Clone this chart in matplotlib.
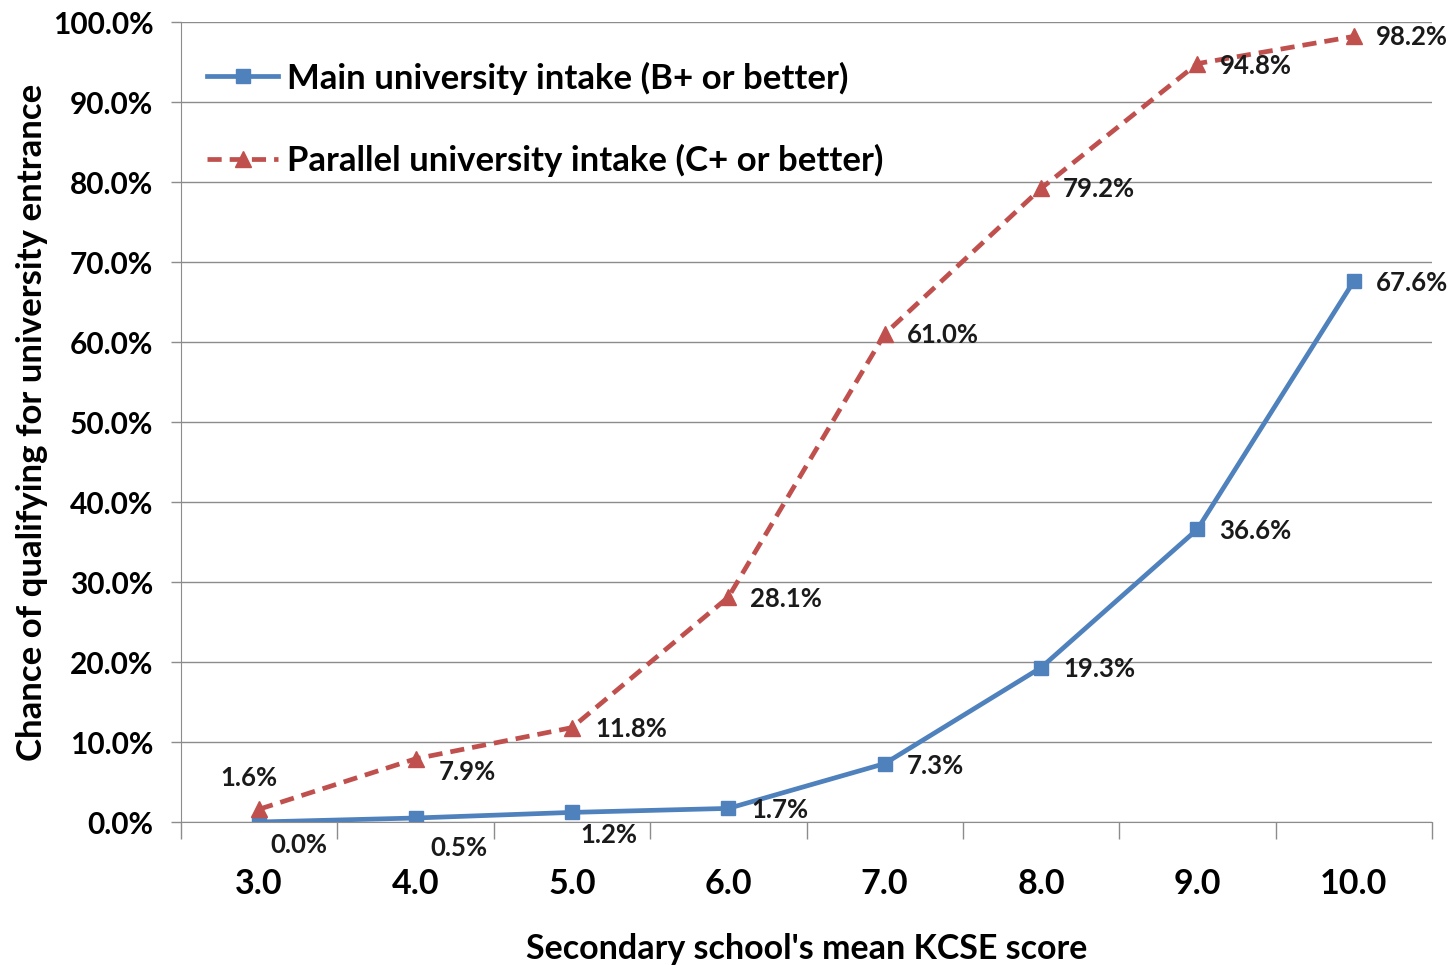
import matplotlib
matplotlib.use("Agg")
import matplotlib.pyplot as plt
from matplotlib.ticker import FuncFormatter, MultipleLocator

plt.rcParams["font.family"] = ["Lato", "DejaVu Sans"]

scores = ["3.0", "4.0", "5.0", "6.0", "7.0", "8.0", "9.0", "10.0"]
main_intake = [0.0, 0.5, 1.2, 1.7, 7.3, 19.3, 36.6, 67.6]
parallel_intake = [1.6, 7.9, 11.8, 28.1, 61.0, 79.2, 94.8, 98.2]

# label offsets in pixels (dx, dy), relative to the data point
main_offsets = [(11, -23), (15, -30), (8, -23), (23, -2), (22, -2), (22, -1), (22, -2), (22, -2)]
par_offsets = [(-39, 31), (23, -13), (23, -1), (22, -2), (22, -1), (22, -1), (22, -2), (22, -1)]

BLUE = "#4F81BD"
RED = "#C0504D"

fig = plt.figure(figsize=(14.51, 9.65), dpi=100)
ax = fig.add_axes([181 / 1451, 1 - 822 / 965, 1251 / 1451, 800 / 965])

x = list(range(len(scores)))
ax.plot(x, main_intake, color=BLUE, lw=3.4, marker="s", ms=10,
        label="Main university intake (B+ or better)")
ax.plot(x, parallel_intake, color=RED, lw=3.4, ls=(0, (3.0, 1.7)), marker="^", ms=11,
        label="Parallel university intake (C+ or better)")

for xi, v, (dx, dy) in zip(x, main_intake, main_offsets):
    ax.annotate(f"{v:.1f}%", (xi, v), xytext=(dx, dy), textcoords="offset pixels",
                ha="left", va="center", fontsize=18.5, fontweight="bold", color="#1a1a1a")
for xi, v, (dx, dy) in zip(x, parallel_intake, par_offsets):
    ax.annotate(f"{v:.1f}%", (xi, v), xytext=(dx, dy), textcoords="offset pixels",
                ha="left", va="center", fontsize=18.5, fontweight="bold", color="#1a1a1a")

ax.set_xlim(-0.5, len(scores) - 0.5)
ax.set_ylim(0, 100)
ax.yaxis.set_major_locator(MultipleLocator(10))
ax.yaxis.set_major_formatter(FuncFormatter(lambda v, p: f"{v:.1f}%"))
ax.grid(axis="y", color="#8c8c8c", lw=1)
ax.set_axisbelow(True)

ax.set_xticks(x)
ax.set_xticklabels(scores)
ax.set_xticks([i - 0.5 for i in range(len(scores) + 1)], minor=True)
ax.tick_params(axis="x", which="major", length=0, pad=33, labelsize=24.5)
ax.tick_params(axis="x", which="minor", length=12, color="#8c8c8c", width=1)
ax.tick_params(axis="y", length=7, color="#8c8c8c", width=1, pad=13, labelsize=21.5)
for lab in ax.get_xticklabels() + ax.get_yticklabels():
    lab.set_fontweight("bold")

for side in ("top", "right"):
    ax.spines[side].set_visible(False)
for side in ("left", "bottom"):
    ax.spines[side].set_color("#8c8c8c")

ax.set_xlabel("Secondary school's mean KCSE score", fontsize=24.5, fontweight="bold", labelpad=24)
ax.set_ylabel("Chance of qualifying for university entrance", fontsize=25, fontweight="bold", labelpad=3)

ax.legend(loc="upper left", bbox_to_anchor=(0.021, 0.9506), frameon=False,
          handlelength=2.05, handletextpad=0.25, labelspacing=1.42,
          borderpad=0, borderaxespad=0,
          prop={"weight": "bold", "size": 25})

fig.savefig("out.png", dpi=100)
